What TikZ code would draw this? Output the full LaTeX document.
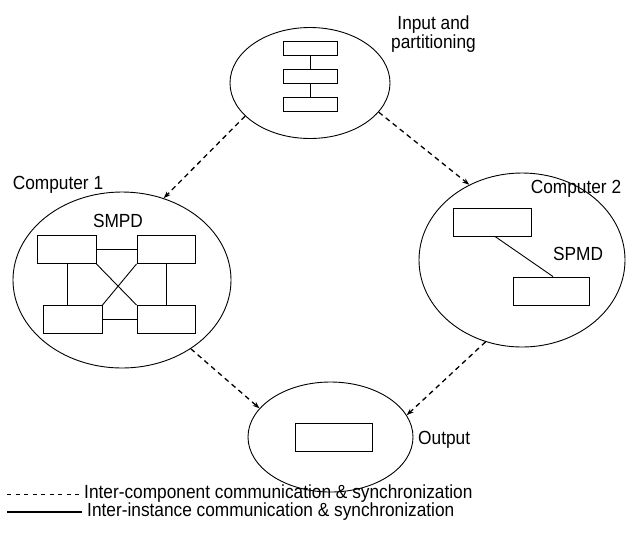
\documentclass[tikz,border=0pt]{standalone}
\usepackage{fontspec}
\setmainfont[FakeStretch=0.91]{Liberation Sans}
\usetikzlibrary{shapes.geometric,arrows.meta}
\begin{document}
\begin{tikzpicture}[x=1pt,y=-1pt,
  font=\fontsize{19}{19}\selectfont,
  oval/.style={draw,ellipse,line width=0.9pt,inner sep=0pt},
  bx/.style={draw,line width=0.9pt,inner sep=0pt,minimum width=#1,minimum height=28pt},
  sbx/.style={draw,line width=0.9pt,inner sep=0pt,minimum width=54pt,minimum height=14pt},
  link/.style={line width=0.9pt},
  flow/.style={line width=1.3pt,dash pattern=on 5pt off 4pt,-{Stealth[length=7pt,width=5pt]}},
  lbl/.style={inner sep=0pt}]
\useasboundingbox (0,0) rectangle (636,547);
% ellipses
\node[oval,minimum width=160pt,minimum height=111pt] (top) at (310,83) {};
\node[oval,minimum width=218pt,minimum height=176pt] (c1) at (122,280) {};
\node[oval,minimum width=206pt,minimum height=174pt] (c2) at (522,260) {};
\node[oval,minimum width=165pt,minimum height=110pt] (out) at (330.5,437) {};
% labels
\node[lbl,align=center] (inlbl) at (433.5,34) {Input and\\partitioning};
\node[lbl] (c1lbl) at (58,185) {Computer 1};
\node[lbl] (c2lbl) at (576,189) {Computer 2};
\node[lbl] (smpd) at (118,221) {SMPD};
\node[lbl] (spmd) at (578,254) {SPMD};
\node[lbl,anchor=west] (outlbl) at (418,440) {Output};
% top boxes
\node[sbx] (t1) at (310,48) {};
\node[sbx] (t2) at (310,76) {};
\node[sbx] (t3) at (310,104) {};
\draw[link] (t1.south) -- (t2.north);
\draw[link] (t2.south) -- (t3.north);
% computer 1 boxes
\node[bx=59pt] (tl) at (66.5,249.5) {};
\node[bx=58pt] (tr) at (166,249.5) {};
\node[bx=59pt] (bl) at (72.5,319.5) {};
\node[bx=58pt] (br) at (166,319.5) {};
\draw[link] (tl.east) -- (tr.west);
\draw[link] (bl.east) -- (br.west);
\draw[link] ([xshift=0.5pt]tl.south) -- ([xshift=0.5pt]tl.south |- bl.north);
\draw[link] (tr.south) -- (br.north);
\draw[link] (tl.south east) -- (br.north west);
\draw[link] (tr.south west) -- (bl.north east);
% computer 2 boxes
\node[bx=78pt] (a1) at (492,222) {};
\node[bx=76pt] (a2) at (551,291) {};
\draw[link] ([xshift=3pt]a1.south) -- ([xshift=2pt]a2.north);
% output box
\node[bx=77pt] (ob) at (333.5,437) {};
% flows
\draw[flow] (top.207) -- (c1.63);
\draw[flow] (top.337) -- (c2.125);
\draw[flow] (c1.315) -- (out.158);
\draw[flow] (c2.246) -- (out.16);
% legend
\coordinate (d0) at (7,494);
\coordinate (d1) at (83,494);
\coordinate (s0) at (7,512);
\coordinate (s1) at (82,512);
\draw[line width=0.9pt,dash pattern=on 4pt off 4.5pt] (d0) -- (d1);
\draw[line width=1.3pt] (s0) -- (s1);
\node[lbl,anchor=west,text height=13.5pt,text depth=3pt] (leg1) at (84,493) {Inter-component communication \& synchronization};
\node[lbl,anchor=west,text height=13.5pt,text depth=3pt] (leg2) at (87,511) {Inter-instance communication \& synchronization};
\end{tikzpicture}
\end{document}
